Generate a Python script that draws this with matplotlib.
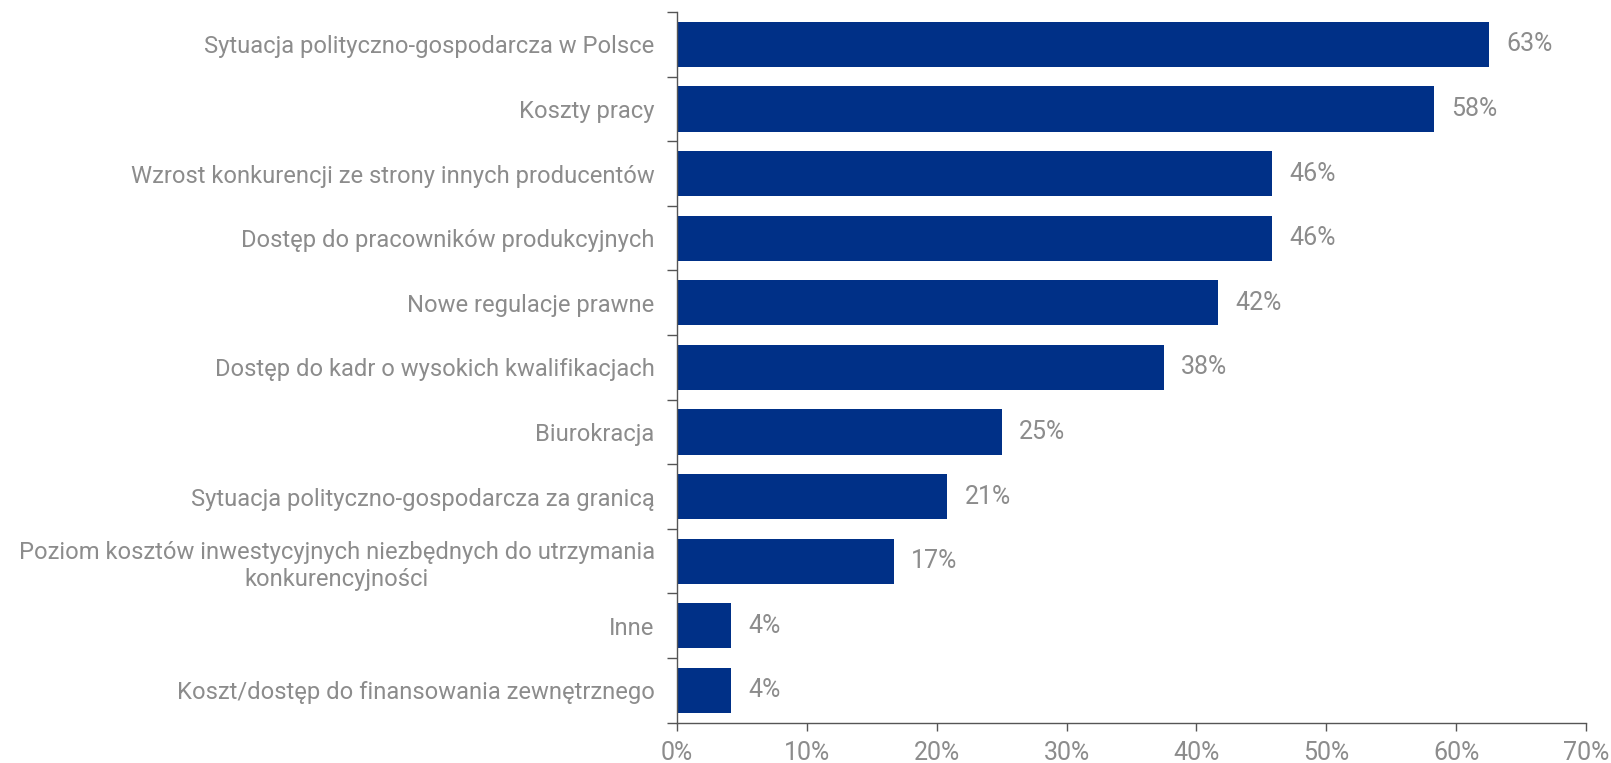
import matplotlib
matplotlib.use("Agg")
import matplotlib.pyplot as plt
from matplotlib.ticker import FuncFormatter, MultipleLocator

categories = [
    "Sytuacja polityczno-gospodarcza w Polsce",
    "Koszty pracy",
    "Wzrost konkurencji ze strony innych producentów",
    "Dostęp do pracowników produkcyjnych",
    "Nowe regulacje prawne",
    "Dostęp do kadr o wysokich kwalifikacjach",
    "Biurokracja",
    "Sytuacja polityczno-gospodarcza za granicą",
    "Poziom kosztów inwestycyjnych niezbędnych do utrzymania\nkonkurencyjności",
    "Inne",
    "Koszt/dostęp do finansowania zewnętrznego",
]
values = [62.5, 58.3, 45.8, 45.8, 41.7, 37.5, 25.0, 20.8, 16.7, 4.2, 4.2]
value_labels = ["63%", "58%", "46%", "46%", "42%", "38%", "25%", "21%", "17%", "4%", "4%"]

bar_color = "#003087"
text_color = "#8c8c8c"
spine_color = "#555555"

plt.rcParams['font.family'] = ['Roboto', 'DejaVu Sans']

fig = plt.figure(figsize=(16.11, 7.63), dpi=100)
ax = fig.add_axes([0.4202, 0.0528, 0.5643, 0.9315])

n = len(categories)
ypos = list(range(n))
ax.barh(ypos, values, height=0.7, color=bar_color)
ax.set_ylim(n - 0.5, -0.5)
ax.set_xlim(0, 70)

ax.set_yticks(ypos)
ax.set_yticklabels(categories, fontsize=17.1, color=text_color,
                   multialignment='center', linespacing=1.25)
ax.tick_params(axis='y', which='major', length=0, pad=16)
ax.set_yticks([i - 0.5 for i in range(n + 1)], minor=True)
ax.tick_params(axis='y', which='minor', length=7, width=1, color=spine_color)

ax.xaxis.set_major_locator(MultipleLocator(10))
ax.xaxis.set_major_formatter(FuncFormatter(lambda v, p: f"{v:.0f}%"))
ax.tick_params(axis='x', length=6, width=1, color=spine_color, labelsize=18,
               labelcolor=text_color, pad=7)

for s in ['top', 'right']:
    ax.spines[s].set_visible(False)
for s in ['left', 'bottom']:
    ax.spines[s].set_color(spine_color)
    ax.spines[s].set_linewidth(1)

for y, v, lab in zip(ypos, values, value_labels):
    ax.annotate(lab, xy=(v, y), xytext=(12.5, 0), textcoords='offset points',
                va='center', ha='left', fontsize=18, color=text_color)

fig.savefig("out.png", dpi=100)
